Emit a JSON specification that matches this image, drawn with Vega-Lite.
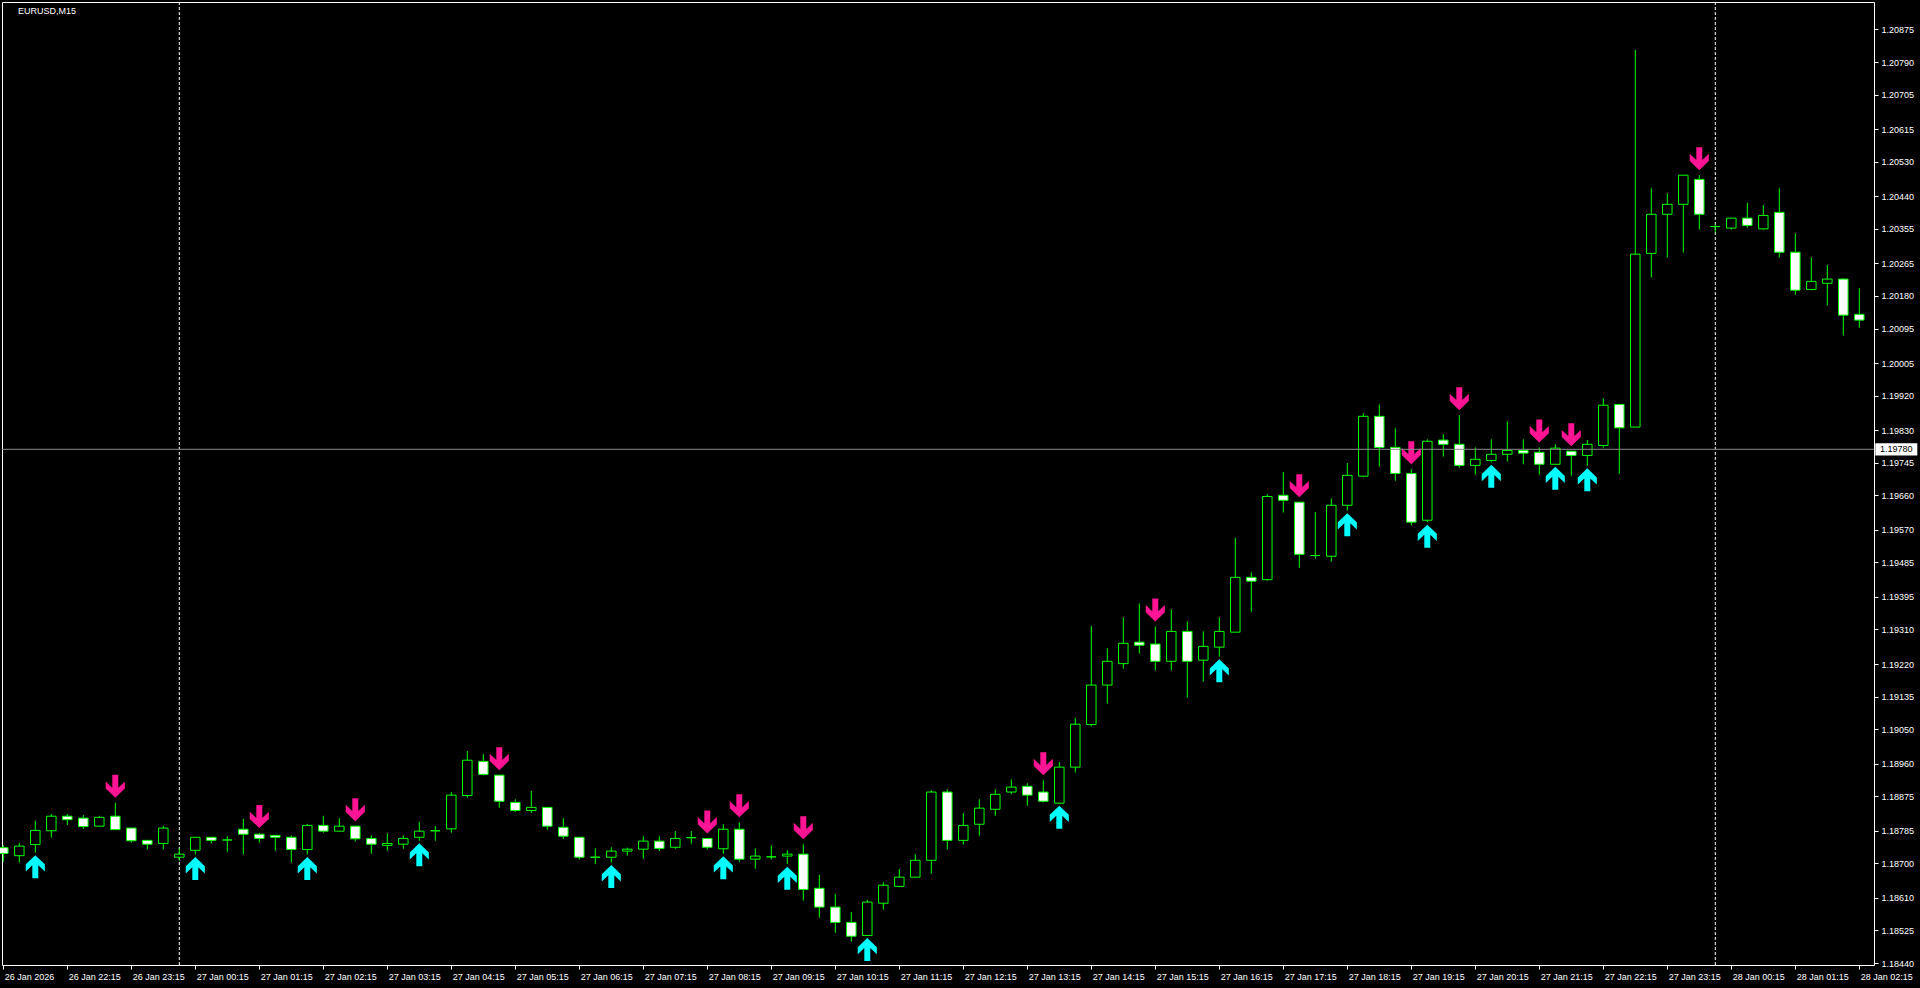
{
"$schema": "https://vega.github.io/schema/vega-lite/v6.json",
"width": 1872, "height": 963,
"autosize": {"type": "none"},
"padding": {"left": 2, "top": 2, "right": 46, "bottom": 23},
"background": "#000000",
"title": {"text": "EURUSD,M15", "anchor": "start", "frame": "group", "color": "#ffffff", "font": "Liberation Sans", "fontSize": 9, "fontWeight": "normal", "offset": -14, "dx": 16, "baseline": "top"},
"config": {
  "view": {"stroke": "#ffffff", "strokeWidth": 1, "fill": "#000000"},
  "scale": {"continuousPadding": 0},
  "axis": {"grid": false, "domain": false, "labelFont": "Liberation Sans", "labelFontSize": 9, "labelColor": "#ffffff", "tickColor": "#ffffff", "tickSize": 4, "tickWidth": 1, "title": null, "labelOverlap": false}
},
"layer": [
{
  "data": {"format": {"parse": {"t": "utc:'%Y-%m-%d %H:%M'"}}, "values": [
{"t":"2026-01-26 21:15","o":1.18741,"h":1.18748,"l":1.18704,"c":1.18726},
{"t":"2026-01-26 21:30","o":1.18720,"h":1.18753,"l":1.18702,"c":1.18745},
{"t":"2026-01-26 21:45","o":1.18749,"h":1.18811,"l":1.18728,"c":1.18786,"s":"up"},
{"t":"2026-01-26 22:00","o":1.18785,"h":1.18829,"l":1.18767,"c":1.18823},
{"t":"2026-01-26 22:15","o":1.18823,"h":1.18829,"l":1.18800,"c":1.18814},
{"t":"2026-01-26 22:30","o":1.18818,"h":1.18826,"l":1.18790,"c":1.18796},
{"t":"2026-01-26 22:45","o":1.18797,"h":1.18824,"l":1.18796,"c":1.18820},
{"t":"2026-01-26 23:00","o":1.18823,"h":1.18858,"l":1.18788,"c":1.18788,"s":"dn"},
{"t":"2026-01-26 23:15","o":1.18792,"h":1.18792,"l":1.18754,"c":1.18759},
{"t":"2026-01-26 23:30","o":1.18760,"h":1.18760,"l":1.18736,"c":1.18750},
{"t":"2026-01-26 23:45","o":1.18752,"h":1.18798,"l":1.18736,"c":1.18792},
{"t":"2026-01-27 00:00","o":1.18716,"h":1.18739,"l":1.18707,"c":1.18724},
{"t":"2026-01-27 00:15","o":1.18734,"h":1.18768,"l":1.18723,"c":1.18768,"s":"up"},
{"t":"2026-01-27 00:30","o":1.18768,"h":1.18768,"l":1.18752,"c":1.18760},
{"t":"2026-01-27 00:45","o":1.18761,"h":1.18771,"l":1.18730,"c":1.18761},
{"t":"2026-01-27 01:00","o":1.18789,"h":1.18816,"l":1.18723,"c":1.18776},
{"t":"2026-01-27 01:15","o":1.18776,"h":1.18779,"l":1.18754,"c":1.18765,"s":"dn"},
{"t":"2026-01-27 01:30","o":1.18773,"h":1.18773,"l":1.18733,"c":1.18768},
{"t":"2026-01-27 01:45","o":1.18768,"h":1.18773,"l":1.18702,"c":1.18736},
{"t":"2026-01-27 02:00","o":1.18736,"h":1.18803,"l":1.18723,"c":1.18799,"s":"up"},
{"t":"2026-01-27 02:15","o":1.18799,"h":1.18824,"l":1.18780,"c":1.18784},
{"t":"2026-01-27 02:30","o":1.18784,"h":1.18818,"l":1.18784,"c":1.18797},
{"t":"2026-01-27 02:45","o":1.18797,"h":1.18797,"l":1.18757,"c":1.18764,"s":"dn"},
{"t":"2026-01-27 03:00","o":1.18765,"h":1.18773,"l":1.18725,"c":1.18750},
{"t":"2026-01-27 03:15","o":1.18747,"h":1.18779,"l":1.18733,"c":1.18752},
{"t":"2026-01-27 03:30","o":1.18750,"h":1.18773,"l":1.18738,"c":1.18765},
{"t":"2026-01-27 03:45","o":1.18768,"h":1.18808,"l":1.18759,"c":1.18784,"s":"up"},
{"t":"2026-01-27 04:00","o":1.18785,"h":1.18797,"l":1.18759,"c":1.18785},
{"t":"2026-01-27 04:15","o":1.18790,"h":1.18886,"l":1.18780,"c":1.18878},
{"t":"2026-01-27 04:30","o":1.18877,"h":1.18993,"l":1.18871,"c":1.18969},
{"t":"2026-01-27 04:45","o":1.18966,"h":1.18985,"l":1.18929,"c":1.18932},
{"t":"2026-01-27 05:00","o":1.18930,"h":1.18930,"l":1.18845,"c":1.18862,"s":"dn"},
{"t":"2026-01-27 05:15","o":1.18859,"h":1.18867,"l":1.18834,"c":1.18838},
{"t":"2026-01-27 05:30","o":1.18838,"h":1.18889,"l":1.18832,"c":1.18846},
{"t":"2026-01-27 05:45","o":1.18846,"h":1.18846,"l":1.18788,"c":1.18797},
{"t":"2026-01-27 06:00","o":1.18794,"h":1.18818,"l":1.18764,"c":1.18771},
{"t":"2026-01-27 06:15","o":1.18768,"h":1.18768,"l":1.18710,"c":1.18716},
{"t":"2026-01-27 06:30","o":1.18716,"h":1.18739,"l":1.18698,"c":1.18716},
{"t":"2026-01-27 06:45","o":1.18716,"h":1.18742,"l":1.18702,"c":1.18732,"s":"up"},
{"t":"2026-01-27 07:00","o":1.18732,"h":1.18741,"l":1.18720,"c":1.18737},
{"t":"2026-01-27 07:15","o":1.18737,"h":1.18771,"l":1.18712,"c":1.18758},
{"t":"2026-01-27 07:30","o":1.18758,"h":1.18771,"l":1.18732,"c":1.18739},
{"t":"2026-01-27 07:45","o":1.18742,"h":1.18784,"l":1.18738,"c":1.18765},
{"t":"2026-01-27 08:00","o":1.18767,"h":1.18784,"l":1.18751,"c":1.18767},
{"t":"2026-01-27 08:15","o":1.18765,"h":1.18765,"l":1.18736,"c":1.18742,"s":"dn"},
{"t":"2026-01-27 08:30","o":1.18738,"h":1.18802,"l":1.18725,"c":1.18789,"s":"up"},
{"t":"2026-01-27 08:45","o":1.18789,"h":1.18807,"l":1.18704,"c":1.18711,"s":"dn"},
{"t":"2026-01-27 09:00","o":1.18711,"h":1.18739,"l":1.18686,"c":1.18719},
{"t":"2026-01-27 09:15","o":1.18717,"h":1.18747,"l":1.18710,"c":1.18717},
{"t":"2026-01-27 09:30","o":1.18719,"h":1.18734,"l":1.18698,"c":1.18724,"s":"up"},
{"t":"2026-01-27 09:45","o":1.18724,"h":1.18750,"l":1.18603,"c":1.18632,"s":"dn"},
{"t":"2026-01-27 10:00","o":1.18635,"h":1.18670,"l":1.18558,"c":1.18586},
{"t":"2026-01-27 10:15","o":1.18586,"h":1.18620,"l":1.18519,"c":1.18546},
{"t":"2026-01-27 10:30","o":1.18546,"h":1.18573,"l":1.18496,"c":1.18510},
{"t":"2026-01-27 10:45","o":1.18512,"h":1.18605,"l":1.18512,"c":1.18599,"s":"up"},
{"t":"2026-01-27 11:00","o":1.18596,"h":1.18651,"l":1.18579,"c":1.18643},
{"t":"2026-01-27 11:15","o":1.18640,"h":1.18685,"l":1.18638,"c":1.18664},
{"t":"2026-01-27 11:30","o":1.18664,"h":1.18724,"l":1.18664,"c":1.18708},
{"t":"2026-01-27 11:45","o":1.18708,"h":1.18891,"l":1.18673,"c":1.18886},
{"t":"2026-01-27 12:00","o":1.18886,"h":1.18893,"l":1.18736,"c":1.18760},
{"t":"2026-01-27 12:15","o":1.18760,"h":1.18831,"l":1.18749,"c":1.18799},
{"t":"2026-01-27 12:30","o":1.18802,"h":1.18867,"l":1.18772,"c":1.18844},
{"t":"2026-01-27 12:45","o":1.18841,"h":1.18893,"l":1.18824,"c":1.18880},
{"t":"2026-01-27 13:00","o":1.18886,"h":1.18919,"l":1.18880,"c":1.18899},
{"t":"2026-01-27 13:15","o":1.18901,"h":1.18909,"l":1.18850,"c":1.18878},
{"t":"2026-01-27 13:30","o":1.18886,"h":1.18917,"l":1.18859,"c":1.18862,"s":"dn"},
{"t":"2026-01-27 13:45","o":1.18857,"h":1.18964,"l":1.18857,"c":1.18951,"s":"up"},
{"t":"2026-01-27 14:00","o":1.18951,"h":1.19079,"l":1.18937,"c":1.19063},
{"t":"2026-01-27 14:15","o":1.19062,"h":1.19319,"l":1.19057,"c":1.19165},
{"t":"2026-01-27 14:30","o":1.19165,"h":1.19261,"l":1.19117,"c":1.19227},
{"t":"2026-01-27 14:45","o":1.19221,"h":1.19342,"l":1.19208,"c":1.19274},
{"t":"2026-01-27 15:00","o":1.19277,"h":1.19378,"l":1.19247,"c":1.19269},
{"t":"2026-01-27 15:15","o":1.19272,"h":1.19318,"l":1.19203,"c":1.19227,"s":"dn"},
{"t":"2026-01-27 15:30","o":1.19227,"h":1.19363,"l":1.19203,"c":1.19305},
{"t":"2026-01-27 15:45","o":1.19305,"h":1.19331,"l":1.19132,"c":1.19227},
{"t":"2026-01-27 16:00","o":1.19230,"h":1.19305,"l":1.19174,"c":1.19266},
{"t":"2026-01-27 16:15","o":1.19264,"h":1.19342,"l":1.19239,"c":1.19305,"s":"up"},
{"t":"2026-01-27 16:30","o":1.19303,"h":1.19549,"l":1.19303,"c":1.19446},
{"t":"2026-01-27 16:45","o":1.19446,"h":1.19459,"l":1.19356,"c":1.19436},
{"t":"2026-01-27 17:00","o":1.19440,"h":1.19663,"l":1.19437,"c":1.19657},
{"t":"2026-01-27 17:15","o":1.19660,"h":1.19721,"l":1.19615,"c":1.19647},
{"t":"2026-01-27 17:30","o":1.19642,"h":1.19642,"l":1.19471,"c":1.19506,"s":"dn"},
{"t":"2026-01-27 17:45","o":1.19503,"h":1.19616,"l":1.19495,"c":1.19503},
{"t":"2026-01-27 18:00","o":1.19501,"h":1.19652,"l":1.19487,"c":1.19634},
{"t":"2026-01-27 18:15","o":1.19634,"h":1.19744,"l":1.19620,"c":1.19712,"s":"up"},
{"t":"2026-01-27 18:30","o":1.19710,"h":1.19874,"l":1.19707,"c":1.19866},
{"t":"2026-01-27 18:45","o":1.19866,"h":1.19897,"l":1.19735,"c":1.19785},
{"t":"2026-01-27 19:00","o":1.19785,"h":1.19835,"l":1.19698,"c":1.19717},
{"t":"2026-01-27 19:15","o":1.19717,"h":1.19728,"l":1.19582,"c":1.19590,"s":"dn"},
{"t":"2026-01-27 19:30","o":1.19595,"h":1.19806,"l":1.19590,"c":1.19801,"s":"up"},
{"t":"2026-01-27 19:45","o":1.19804,"h":1.19820,"l":1.19761,"c":1.19793},
{"t":"2026-01-27 20:00","o":1.19793,"h":1.19869,"l":1.19732,"c":1.19738,"s":"dn"},
{"t":"2026-01-27 20:15","o":1.19738,"h":1.19785,"l":1.19714,"c":1.19754},
{"t":"2026-01-27 20:30","o":1.19751,"h":1.19806,"l":1.19746,"c":1.19767,"s":"up"},
{"t":"2026-01-27 20:45","o":1.19767,"h":1.19853,"l":1.19748,"c":1.19777},
{"t":"2026-01-27 21:00","o":1.19777,"h":1.19806,"l":1.19741,"c":1.19770},
{"t":"2026-01-27 21:15","o":1.19772,"h":1.19785,"l":1.19714,"c":1.19741,"s":"dn"},
{"t":"2026-01-27 21:30","o":1.19741,"h":1.19793,"l":1.19741,"c":1.19783,"s":"up"},
{"t":"2026-01-27 21:45","o":1.19775,"h":1.19775,"l":1.19711,"c":1.19764,"s":"dn"},
{"t":"2026-01-27 22:00","o":1.19764,"h":1.19804,"l":1.19737,"c":1.19793,"s":"up"},
{"t":"2026-01-27 22:15","o":1.19790,"h":1.19913,"l":1.19784,"c":1.19895},
{"t":"2026-01-27 22:30","o":1.19897,"h":1.19897,"l":1.19716,"c":1.19836},
{"t":"2026-01-27 22:45","o":1.19838,"h":1.20822,"l":1.19838,"c":1.20289},
{"t":"2026-01-27 23:00","o":1.20291,"h":1.20461,"l":1.20228,"c":1.20393},
{"t":"2026-01-27 23:15","o":1.20393,"h":1.20448,"l":1.20280,"c":1.20419},
{"t":"2026-01-27 23:30","o":1.20419,"h":1.20495,"l":1.20293,"c":1.20495},
{"t":"2026-01-27 23:45","o":1.20484,"h":1.20495,"l":1.20353,"c":1.20393,"s":"dn"},
{"t":"2026-01-28 00:00","o":1.20361,"h":1.20367,"l":1.20345,"c":1.20361},
{"t":"2026-01-28 00:15","o":1.20357,"h":1.20383,"l":1.20353,"c":1.20383},
{"t":"2026-01-28 00:30","o":1.20383,"h":1.20423,"l":1.20358,"c":1.20364},
{"t":"2026-01-28 00:45","o":1.20355,"h":1.20417,"l":1.20353,"c":1.20390},
{"t":"2026-01-28 01:00","o":1.20398,"h":1.20461,"l":1.20280,"c":1.20294},
{"t":"2026-01-28 01:15","o":1.20294,"h":1.20344,"l":1.20183,"c":1.20195},
{"t":"2026-01-28 01:30","o":1.20197,"h":1.20281,"l":1.20195,"c":1.20218},
{"t":"2026-01-28 01:45","o":1.20213,"h":1.20261,"l":1.20155,"c":1.20224},
{"t":"2026-01-28 02:00","o":1.20224,"h":1.20226,"l":1.20077,"c":1.20130},
{"t":"2026-01-28 02:15","o":1.20132,"h":1.20200,"l":1.20097,"c":1.20117}
  ]},
  "encoding": {
    "x": {"field": "t", "type": "temporal",
      "scale": {"type": "utc", "padding": 0, "domain": [{"year": 2026, "month": 1, "date": 26, "hours": 21, "minutes": 13, "seconds": 46, "milliseconds": 875, "utc": true}, {"year": 2026, "month": 1, "date": 28, "hours": 2, "minutes": 28, "seconds": 47, "utc": true}]},
      "axis": {"orient": "bottom", "tickCount": 100,
        "values": [1769462100000, 1769465700000, 1769469300000, 1769472900000, 1769476500000, 1769480100000, 1769483700000, 1769487300000, 1769490900000, 1769494500000, 1769498100000, 1769501700000, 1769505300000, 1769508900000, 1769512500000, 1769516100000, 1769519700000, 1769523300000, 1769526900000, 1769530500000, 1769534100000, 1769537700000, 1769541300000, 1769544900000, 1769548500000, 1769552100000, 1769555700000, 1769559300000, 1769562900000, 1769566500000],
        "labelExpr": "utcdate(datum.value) == 26 && utchours(datum.value) == 21 ? '26 Jan 2026' : utcFormat(datum.value, '%d %b %H:%M')",
        "labelAlign": "left", "labelBaseline": "top", "labelPadding": 3, "labelOffset": 1,
        "labelOverlap": false, "labelFlush": false, "labelBound": false}}
  },
  "layer": [
    {"transform": [{"filter": "utchours(datum.t) == 0 && utcminutes(datum.t) == 0"}],
     "mark": {"type": "rule", "color": "#ffffff", "strokeDash": [3, 2], "strokeWidth": 1},
     "encoding": {}},
    {"mark": {"type": "rule", "color": "#00ff00", "strokeWidth": 1},
     "encoding": {
       "y": {"field": "l", "type": "quantitative", "scale": {"domain": [1.184349, 1.209467], "nice": false, "zero": false},
         "axis": {"orient": "right", "format": ".5f", "labelPadding": 3, "labelBaseline": "middle", "labelAlign": "left", "labelOverlap": false, "tickCount": 100,
           "values": [1.20875, 1.2079, 1.20705, 1.20615, 1.2053, 1.2044, 1.20355, 1.20265, 1.2018, 1.20095, 1.20005, 1.1992, 1.1983, 1.19745, 1.1966, 1.1957, 1.19485, 1.19395, 1.1931, 1.1922, 1.19135, 1.1905, 1.1896, 1.18875, 1.18785, 1.187, 1.1861, 1.18525, 1.1844]}},
       "y2": {"field": "h"}}},
    {"mark": {"type": "bar", "width": 9.5, "stroke": "#00ff00", "strokeWidth": 1},
     "encoding": {
       "y": {"field": "o", "type": "quantitative", "scale": {"domain": [1.184349, 1.209467], "nice": false, "zero": false}},
       "y2": {"field": "c"},
       "fill": {"condition": {"test": "datum.c < datum.o", "value": "#ffffff"}, "value": "#000000"}}},
    {"transform": [{"filter": "datum.s == 'dn'"}],
     "mark": {"type": "point", "shape": "M-0.26,-1L0.26,-1L0.26,0.12L0.83,-0.42L0.83,0.2L0,1L-0.83,0.2L-0.83,-0.42L-0.26,0.12Z", "filled": true, "size": 529, "color": "#ff1493", "opacity": 1, "strokeWidth": 0, "yOffset": -16.5},
     "encoding": {"y": {"field": "h", "type": "quantitative", "scale": {"domain": [1.184349, 1.209467], "nice": false, "zero": false}}}},
    {"transform": [{"filter": "datum.s == 'up'"}],
     "mark": {"type": "point", "shape": "M-0.26,1L0.26,1L0.26,-0.12L0.83,0.42L0.83,-0.2L0,-1L-0.83,-0.2L-0.83,0.42L-0.26,-0.12Z", "filled": true, "size": 529, "color": "#00ffff", "opacity": 1, "strokeWidth": 0, "yOffset": 14},
     "encoding": {"y": {"field": "l", "type": "quantitative", "scale": {"domain": [1.184349, 1.209467], "nice": false, "zero": false}}}}
  ]
},
{
  "data": {"values": [{"price": 1.1978, "label": "1.19780"}]},
  "layer": [
    {"mark": {"type": "rule", "color": "#8c8c8c", "strokeWidth": 1},
     "encoding": {"y": {"field": "price", "type": "quantitative", "scale": {"domain": [1.184349, 1.209467], "nice": false, "zero": false}}}},
    {"mark": {"type": "point", "shape": "M-1,-0.29L1,-0.29L1,0.29L-1,0.29Z", "filled": true, "size": 1764, "color": "#ffffff", "opacity": 1, "strokeWidth": 0},
     "encoding": {
       "x": {"datum": {"year": 2026, "month": 1, "date": 28, "hours": 2, "minutes": 49, "seconds": 42, "utc": true}, "type": "temporal", "scale": {"type": "utc", "padding": 0, "domain": [{"year": 2026, "month": 1, "date": 26, "hours": 21, "minutes": 13, "seconds": 46, "milliseconds": 875, "utc": true}, {"year": 2026, "month": 1, "date": 28, "hours": 2, "minutes": 28, "seconds": 47, "utc": true}]}},
       "y": {"field": "price", "type": "quantitative", "scale": {"domain": [1.184349, 1.209467], "nice": false, "zero": false}}}},
    {"mark": {"type": "text", "font": "Liberation Sans", "fontSize": 9, "color": "#000000", "align": "center", "baseline": "middle"},
     "encoding": {
       "x": {"datum": {"year": 2026, "month": 1, "date": 28, "hours": 2, "minutes": 49, "seconds": 42, "utc": true}, "type": "temporal", "scale": {"type": "utc", "padding": 0, "domain": [{"year": 2026, "month": 1, "date": 26, "hours": 21, "minutes": 13, "seconds": 46, "milliseconds": 875, "utc": true}, {"year": 2026, "month": 1, "date": 28, "hours": 2, "minutes": 28, "seconds": 47, "utc": true}]}},
       "y": {"field": "price", "type": "quantitative", "scale": {"domain": [1.184349, 1.209467], "nice": false, "zero": false}},
       "text": {"field": "label"}}}
  ]
}
]
}
